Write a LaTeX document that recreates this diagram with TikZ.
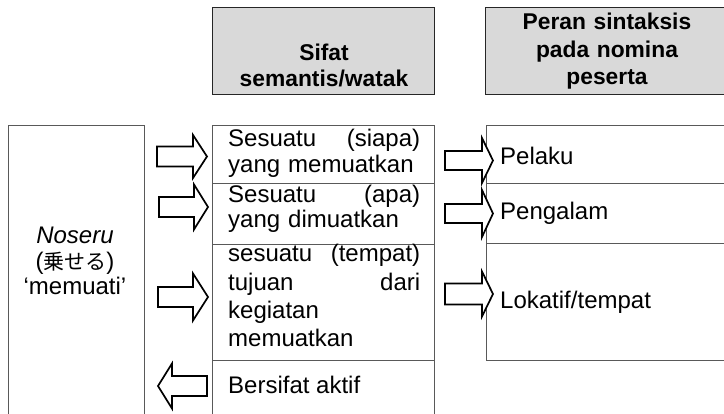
\documentclass[tikz,border=0pt]{standalone}
\usepackage{fontspec}
\setmainfont{Liberation Sans}
\newfontfamily\jpfont{Noto Sans CJK JP}

% hollow block arrow: tail x, head-base x, tip x, centre y, shaft half-height, head half-height
\newcommand\blockarrow[6]{%
  \draw[blk] (#1,#4-#5) -- (#2,#4-#5) -- (#2,#4-#6) -- (#3,#4)
    -- (#2,#4+#6) -- (#2,#4+#5) -- (#1,#4+#5) -- cycle;}

\begin{document}
\begin{tikzpicture}[x=1pt,y=-1pt,
  cell/.style={draw=black!65, line width=0.8pt, anchor=north west, inner sep=0pt},
  head/.style={draw=black!85, fill=black!15, line width=0.8pt, anchor=north west, inner sep=0pt},
  txt/.style={anchor=base west, inner sep=0pt, font=\fontsize{24}{26}\selectfont},
  midtxt/.style={txt, text width=192pt, align=left},
  hdtxt/.style={anchor=base, inner sep=0pt, align=center,
    font=\bfseries\fontsize{22.8}{27}\selectfont},
  blk/.style={draw=black, line width=1.7pt, fill=white, line join=miter}
]
\clip (0,0) rectangle (724,414);

% column headings
\node[head, minimum width=222, minimum height=87] (h1) at (212,7) {};
\node[head, minimum width=245, minimum height=87] (h2) at (485,7) {};
\node[hdtxt, text width=222pt, font=\bfseries\fontsize{22.8}{26}\selectfont] (h1t) at (324,61) {Sifat\\semantis/watak};
\node[hdtxt, text width=240pt, font=\bfseries\fontsize{22.8}{27.5}\selectfont] (h2t) at (607,30) {Peran sintaksis\\pada nomina\\peserta};

% verb box
\node[cell, minimum width=136, minimum height=300] (verb) at (8,125) {};
\node[anchor=base, inner sep=0pt, text width=130pt, align=center,
  font=\fontsize{24}{25.5}\selectfont] (verbt) at (75,244)
  {\textit{Noseru}\\({\jpfont\fontsize{21}{25.5}\selectfont 乗せる})\\‘memuati’};

% semantic properties
\node[cell, minimum width=222, minimum height=58]  (m1) at (212,125) {};
\node[cell, minimum width=222, minimum height=61]  (m2) at (212,183) {};
\node[cell, minimum width=222, minimum height=116] (m3) at (212,244) {};
\node[cell, minimum width=222, minimum height=70]  (m4) at (212,360) {};

\node[midtxt] (m1t) at (228,147) {Sesuatu\hfill(siapa)\\yang memuatkan};
\node[midtxt, font=\fontsize{24}{25}\selectfont] (m2t) at (228,203) {Sesuatu\hfill(apa)\\yang dimuatkan};
\node[midtxt, font=\fontsize{24}{28.3}\selectfont] (m3t) at (228,262) {sesuatu\hfill(tempat)\\tujuan\hfill dari\\kegiatan\\memuatkan};
\node[txt] (m4t) at (228,394) {Bersifat aktif};

% syntactic roles
\node[cell, minimum width=244, minimum height=58]  (r1) at (486,125) {};
\node[cell, minimum width=244, minimum height=60]  (r2) at (486,183) {};
\node[cell, minimum width=244, minimum height=117] (r3) at (486,243) {};

\node[txt] (r1t) at (500,165) {Pelaku};
\node[txt] (r2t) at (500,220) {Pengalam};
\node[txt] (r3t) at (500,309) {Lokatif/tempat};

% arrows between the columns
\blockarrow{157}{193}{207}{156.5}{10}{21.5}
\blockarrow{159}{194}{208}{207}{10}{22.5}
\blockarrow{158}{193}{208}{297}{10}{23.5}
\blockarrow{207}{172}{158}{386}{10}{22.5}

\blockarrow{445}{482}{493}{160.5}{9.5}{22.5}
\blockarrow{445}{482}{493}{213.5}{9.5}{23.5}
\blockarrow{445}{482}{493}{294}{10.5}{22.5}
\end{tikzpicture}
\end{document}
